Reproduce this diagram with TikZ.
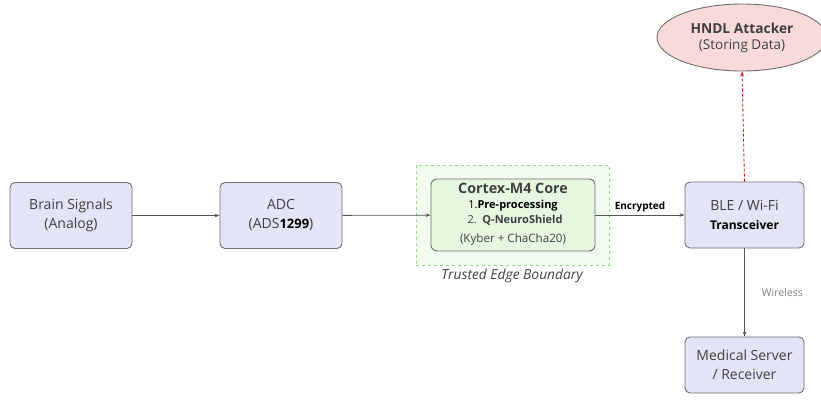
\documentclass[tikz,border=0pt]{standalone}
\usepackage{fontspec}
\setmainfont{Open Sans}
\usetikzlibrary{shapes.geometric,arrows.meta}
\definecolor{boxfill}{HTML}{E4E4F7}
\definecolor{boxdraw}{HTML}{6E6E6E}
\definecolor{txt}{HTML}{404040}
\definecolor{corefill}{HTML}{E6F7DF}
\definecolor{bndfill}{HTML}{F1FCEE}
\definecolor{bnddraw}{HTML}{8FD98A}
\definecolor{attfill}{HTML}{F8DADB}
\definecolor{arr}{HTML}{555555}
\tikzset{
  blk/.style={draw=boxdraw, line width=0.9pt, fill=boxfill, rounded corners=5pt, align=center, text=txt, font=\fontsize{14}{19}\selectfont, inner sep=0pt},
  conn/.style={draw=arr, line width=0.8pt, -{Stealth[length=5pt,width=3.5pt]}},
}
\begin{document}
\begin{tikzpicture}[x=1pt,y=-1pt]
\useasboundingbox (0,0) rectangle (821,404);
% boundary
\node[draw=bnddraw, dashed, fill=bndfill, line width=0.7pt, minimum width=193pt, minimum height=100pt, inner sep=0pt] (bnd) at (512.5,215) {};
\node[font=\itshape\fontsize{13.8}{16}\selectfont, text=txt] (bndlbl) at (512,276) {Trusted Edge Boundary};
% boxes
\node[blk, minimum width=122pt, minimum height=66pt] (brain) at (71,215.5) {Brain Signals\\(Analog)};
\node[blk, minimum width=122pt, minimum height=66pt] (adc) at (281,215.5) {ADC\\(ADS{\color{black}\bfseries\fontsize{13}{19}\selectfont 1299})};
\node[draw=boxdraw, line width=0.9pt, fill=corefill, rounded corners=6pt, minimum width=164pt, minimum height=72pt, inner sep=0pt] (core) at (513,215) {};
\node[font=\bfseries\fontsize{14.3}{16}\selectfont, text=txt] (coret) at (513,188) {Cortex-M4 Core};
\node[font=\fontsize{11}{12}\selectfont, text=black] (core1) at (513,206) {1.\textbf{Pre-processing}};
\node[font=\fontsize{11}{12}\selectfont, text=txt] (core2) at (515,220) {2.~~\textbf{Q-NeuroShield}};
\node[font=\fontsize{11.6}{13}\selectfont, text=txt] (core3) at (513,239) {(Kyber + ChaCha20)};
\node[blk, minimum width=119pt, minimum height=66pt] (ble) at (744.5,215) {BLE / Wi-Fi\\{\color{black}\bfseries\fontsize{12}{19}\selectfont Transceiver}};
\node[blk, minimum width=119pt, minimum height=56pt] (med) at (744.5,365) {Medical Server\\/ Receiver};
\node[ellipse, draw=boxdraw, line width=0.9pt, fill=attfill, minimum width=170pt, minimum height=67pt, inner sep=0pt, align=center, text=txt] (att) at (742,37.5) {{\bfseries\fontsize{13.8}{16}\selectfont HNDL Attacker}\\[4pt]{\fontsize{13.5}{16}\selectfont (Storing Data)}};
% connectors
\draw[conn] (brain) -- (adc);
\draw[conn] (adc) -- (core);
\draw[conn] (core) -- node[above=2pt, font=\bfseries\fontsize{10}{11}\selectfont, text=black, inner sep=1pt] (enc) {Encrypted} (ble);
\draw[conn] (ble) -- node[right=16pt, font=\fontsize{10.5}{12}\selectfont, text=gray, inner sep=1pt] (wl) {Wireless} (med);
\draw[draw=red!85!black, dash pattern=on 3pt off 2pt, line width=0.8pt, -{Stealth[length=5pt,width=3.5pt]}] (ble.north) -- (att.south);
\end{tikzpicture}
\end{document}
